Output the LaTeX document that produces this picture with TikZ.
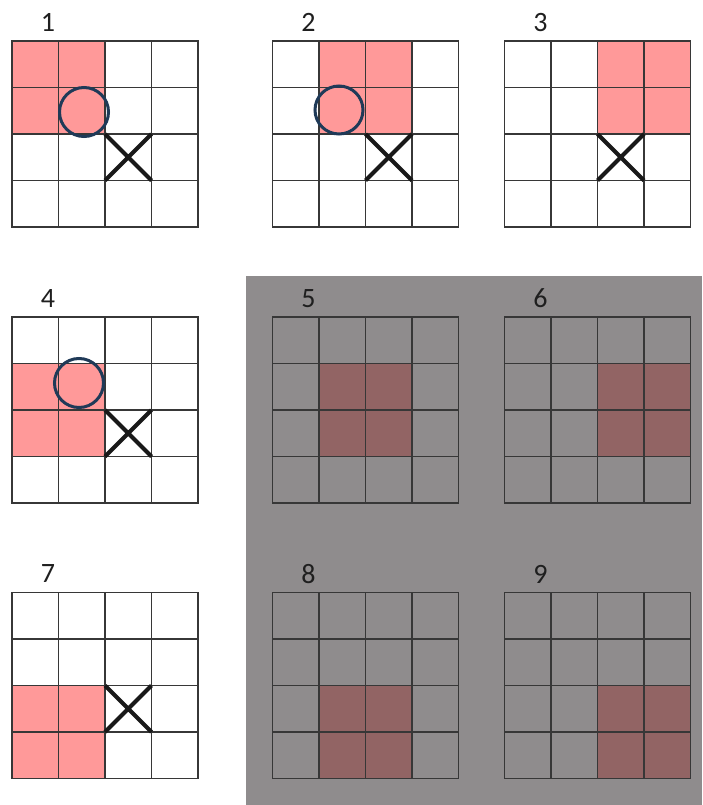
\documentclass[tikz,border=0pt]{standalone}
\usepackage{fontspec}
\setmainfont{Carlito}
\definecolor{pinkc}{RGB}{255,153,153}
\definecolor{bgc}{RGB}{143,140,141}
\definecolor{darkc}{RGB}{146,100,100}
\definecolor{gridc}{RGB}{55,55,55}
\definecolor{circc}{RGB}{31,58,88}
\begin{document}
\begin{tikzpicture}[x=1pt,y=-1pt,
  gridline/.style={draw=gridc,line width=1.1pt,line cap=rect},
  lab/.style={font=\fontsize{28}{28}\selectfont,text=black!88,inner sep=0pt},
  xmark/.style={draw=black!90,line width=4pt},
  omark/.style={draw=circc,line width=3pt}]
\useasboundingbox (0,0) rectangle (702,805);
\fill[white] (0,0) rectangle (702,805);
\fill[bgc] (246,276) rectangle (702,805);
\foreach \L/\T/\n/\col/\c/\r in {12/41/1/pinkc/0/0, 272.5/41/2/pinkc/1/0, 504.5/41/3/pinkc/2/0, 12/317/4/pinkc/0/1, 272.5/317/5/darkc/1/1, 504.5/317/6/darkc/2/1, 12/592.5/7/pinkc/0/2, 272.5/592.5/8/darkc/1/2, 504.5/592.5/9/darkc/2/2}{
  \fill[\col] ({\L+\c*46.5},{\T+\r*46.5}) rectangle ++(93,93);
  \foreach \i in {0,...,4}{
    \draw[gridline] ({\L+\i*46.5},\T) -- ++(0,186);
    \draw[gridline] (\L,{\T+\i*46.5}) -- ++(186,0);
  }
  \node[lab] (label\n) at ({\L+36},{\T-18.5}) {\n};
}
% circles
\draw[omark] (84,112) circle[radius=24.5pt];
\draw[omark] (339,110) circle[radius=24pt];
\draw[omark] (79,383) circle[radius=24.5pt];
% crosses
\draw[xmark] (105,134) -- (151.5,180.5) (105,180.5) -- (151.5,134);
\draw[xmark] (365.5,134) -- (412,180.5) (365.5,180.5) -- (412,134);
\draw[xmark] (597.5,134) -- (644,180.5) (597.5,180.5) -- (644,134);
\draw[xmark] (105,410) -- (151.5,456.5) (105,456.5) -- (151.5,410);
\draw[xmark] (105,685.5) -- (151.5,732) (105,732) -- (151.5,685.5);
\end{tikzpicture}
\end{document}
